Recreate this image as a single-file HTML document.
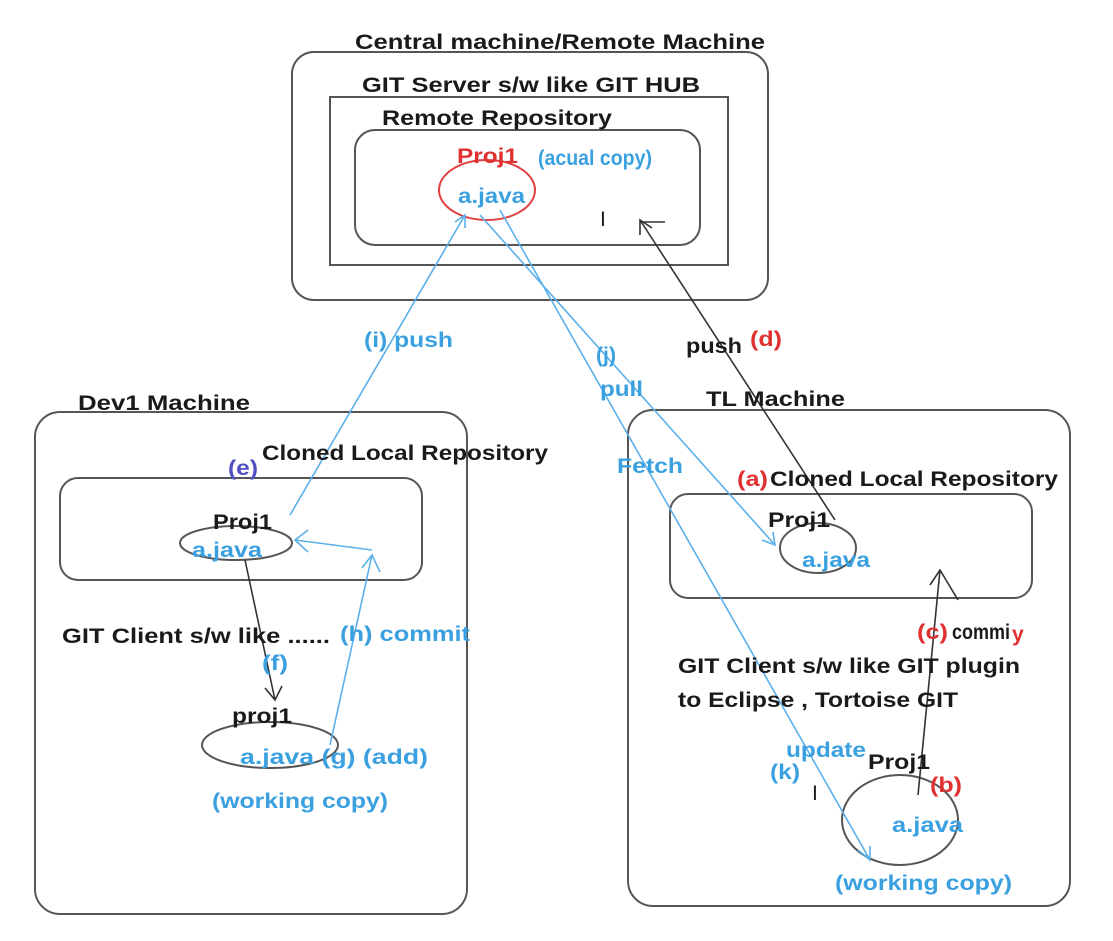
<!DOCTYPE html>
<html><head><meta charset="utf-8"><style>
html,body{margin:0;padding:0;background:#fff;}
svg{display:block;}
text{font-family:"Liberation Sans",sans-serif;font-weight:bold;font-size:21px;}
.k{fill:#1a1a1a}.b{fill:#3aa0e0}.r{fill:#e03030}
</style></head><body>
<svg width="1113" height="941" viewBox="0 0 1113 941" xmlns="http://www.w3.org/2000/svg">
<g fill="none" stroke="#555" stroke-width="2">
<rect x="292" y="52" width="476" height="248" rx="22"/>
<rect x="330" y="97" width="398" height="168"/>
<rect x="355" y="130" width="345" height="115" rx="20"/>
<rect x="35" y="412" width="432" height="502" rx="25"/>
<rect x="60" y="478" width="362" height="102" rx="18"/>
<ellipse cx="236" cy="543" rx="56" ry="17"/>
<ellipse cx="270" cy="745" rx="68" ry="23"/>
<rect x="628" y="410" width="442" height="496" rx="25"/>
<rect x="670" y="494" width="362" height="104" rx="18"/>
<ellipse cx="818" cy="548" rx="38" ry="25"/>
<ellipse cx="900" cy="820" rx="58" ry="45"/>
</g>
<ellipse cx="487" cy="190" rx="48" ry="30" fill="none" stroke="#e04040" stroke-width="2"/>
<g stroke="#5ab0ea" stroke-width="1.6" fill="none">
<path d="M290 515 L465 215 M455 222 L465 215 L465 228"/>
<path d="M480 215 L775 545 M762 540 L775 545 L773 532"/>
<path d="M500 210 L870 860 M858 850 L870 860 L870 846"/>
<path d="M330 745 L372 555 M362 568 L372 555 L380 572"/>
<path d="M372 550 L295 540 M308 530 L295 540 L308 552"/>
</g>
<g stroke="#333" stroke-width="1.6" fill="none">
<path d="M835 520 L640 220 M640 235 L640 220 L652 228"/>
<path d="M640 222 L665 222"/>
<path d="M918 795 L940 570 M930 585 L940 570 L958 600"/>
<path d="M245 560 L275 700 M265 688 L275 700 L282 686"/>
</g>
<g lengthAdjust="spacingAndGlyphs">
<text x="355" y="49" class="k" textLength="410" lengthAdjust="spacingAndGlyphs">Central machine/Remote Machine</text>
<text x="362" y="92" class="k" textLength="338" lengthAdjust="spacingAndGlyphs">GIT Server s/w  like  GIT HUB</text>
<text x="382" y="125" class="k" textLength="230" lengthAdjust="spacingAndGlyphs">Remote Repository</text>
<text x="457" y="163" class="r" textLength="61" lengthAdjust="spacingAndGlyphs">Proj1</text>
<text x="538" y="165" class="b" textLength="114" lengthAdjust="spacingAndGlyphs">(acual copy)</text>
<text x="458" y="203" class="b" textLength="67" lengthAdjust="spacingAndGlyphs">a.java</text>
<text x="600" y="226" class="k" style="font-weight:normal">I</text>
<text x="364" y="347" class="b" textLength="89" lengthAdjust="spacingAndGlyphs">(i) push</text>
<text x="596" y="362" class="b" textLength="20" lengthAdjust="spacingAndGlyphs">(j)</text>
<text x="600" y="396" class="b" textLength="43" lengthAdjust="spacingAndGlyphs">pull</text>
<text x="617" y="473" class="b" textLength="66" lengthAdjust="spacingAndGlyphs">Fetch</text>
<text x="686" y="353" class="k" textLength="56" lengthAdjust="spacingAndGlyphs">push</text>
<text x="750" y="346" class="r" textLength="32" lengthAdjust="spacingAndGlyphs">(d)</text>
<text x="78" y="410" class="k" textLength="172" lengthAdjust="spacingAndGlyphs">Dev1 Machine</text>
<text x="262" y="460" class="k" textLength="286" lengthAdjust="spacingAndGlyphs">Cloned Local Repository</text>
<text x="228" y="475" style="fill:#5050c0" textLength="30" lengthAdjust="spacingAndGlyphs">(e)</text>
<text x="213" y="529" class="k" textLength="59" lengthAdjust="spacingAndGlyphs">Proj1</text>
<text x="192" y="557" class="b" textLength="70" lengthAdjust="spacingAndGlyphs">a.java</text>
<text x="62" y="643" class="k" textLength="268" lengthAdjust="spacingAndGlyphs">GIT Client s/w like ......</text>
<text x="340" y="641" class="b" textLength="130" lengthAdjust="spacingAndGlyphs">(h) commit</text>
<text x="262" y="670" class="b" textLength="26" lengthAdjust="spacingAndGlyphs">(f)</text>
<text x="232" y="723" class="k" textLength="60" lengthAdjust="spacingAndGlyphs">proj1</text>
<text x="240" y="764" class="b" textLength="188" lengthAdjust="spacingAndGlyphs">a.java  (g)   (add)</text>
<text x="212" y="808" class="b" textLength="176" lengthAdjust="spacingAndGlyphs">(working copy)</text>
<text x="706" y="406" class="k" textLength="139" lengthAdjust="spacingAndGlyphs">TL Machine</text>
<text x="737" y="486" class="r" textLength="31" lengthAdjust="spacingAndGlyphs">(a)</text>
<text x="770" y="486" class="k" textLength="288" lengthAdjust="spacingAndGlyphs">Cloned Local Repository</text>
<text x="768" y="527" class="k" textLength="62" lengthAdjust="spacingAndGlyphs">Proj1</text>
<text x="802" y="567" class="b" textLength="68" lengthAdjust="spacingAndGlyphs">a.java</text>
<text x="917" y="639" class="r" textLength="31" lengthAdjust="spacingAndGlyphs">(c)</text>
<text x="952" y="639" class="k" textLength="58" lengthAdjust="spacingAndGlyphs">commi</text>
<text x="1012" y="641" class="r">y</text>
<text x="678" y="673" class="k" textLength="342" lengthAdjust="spacingAndGlyphs">GIT Client s/w like GIT plugin</text>
<text x="678" y="707" class="k" textLength="280" lengthAdjust="spacingAndGlyphs">to Eclipse , Tortoise GIT</text>
<text x="786" y="757" class="b" textLength="80" lengthAdjust="spacingAndGlyphs">update</text>
<text x="770" y="779" class="b" textLength="30" lengthAdjust="spacingAndGlyphs">(k)</text>
<text x="868" y="769" class="k" textLength="62" lengthAdjust="spacingAndGlyphs">Proj1</text>
<text x="930" y="792" class="r" textLength="32" lengthAdjust="spacingAndGlyphs">(b)</text>
<text x="812" y="800" class="k" style="font-weight:normal">I</text>
<text x="892" y="832" class="b" textLength="71" lengthAdjust="spacingAndGlyphs">a.java</text>
<text x="835" y="890" class="b" textLength="177" lengthAdjust="spacingAndGlyphs">(working copy)</text>
</g>
</svg>
</body></html>
